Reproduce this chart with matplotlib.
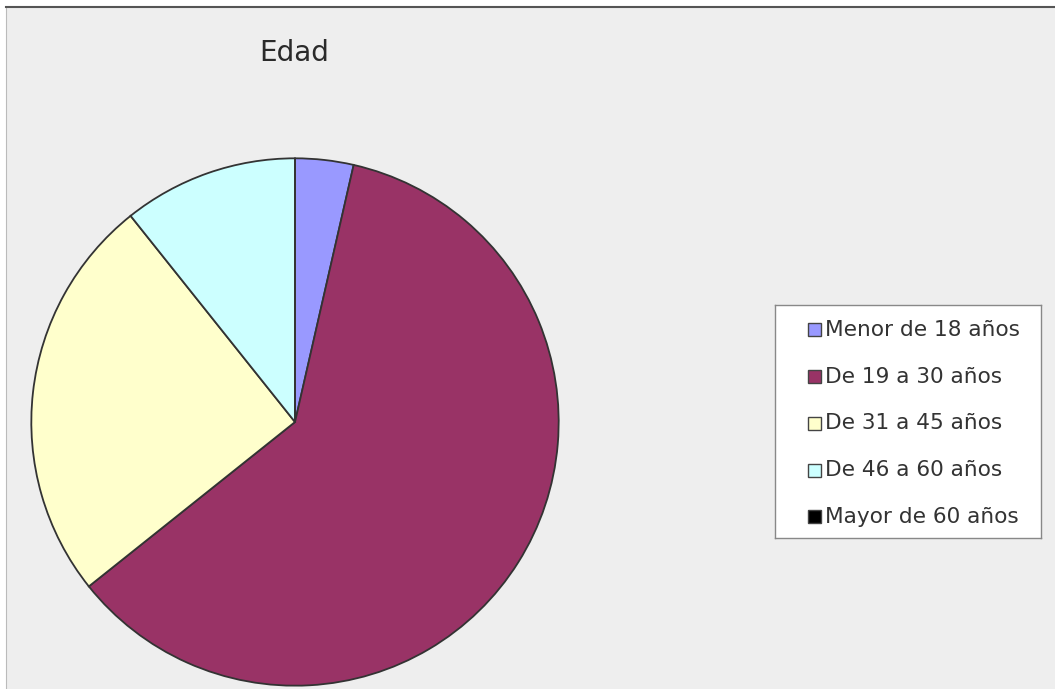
import matplotlib.pyplot as plt
from matplotlib.patches import Rectangle

plt.rcParams['font.family'] = ['DejaVu Sans']

labels = ["Menor de 18 años", "De 19 a 30 años", "De 31 a 45 años",
          "De 46 a 60 años", "Mayor de 60 años"]
counts = [1, 17, 7, 3, 0]
colors = ["#9999FF", "#993366", "#FFFFCC", "#CCFFFF", "#000000"]

W, H = 1055, 689
fig = plt.figure(figsize=(W / 100, H / 100), dpi=100)
fig.patch.set_facecolor("white")

# grey chart area with dark top border
bg = fig.add_axes([6 / W, 0, 1 - 6 / W, (H - 7) / H])
bg.set_facecolor("#EEEEEE")
bg.set_xticks([])
bg.set_yticks([])
for side in ["right", "bottom"]:
    bg.spines[side].set_visible(False)
bg.spines["top"].set_color("#555555")
bg.spines["top"].set_linewidth(1.5)
bg.spines["left"].set_color("#BBBBBB")
bg.spines["left"].set_linewidth(0.8)

fig.text(294 / W, 1 - 53 / H, "Edad", ha="center", va="center",
         fontsize=20, color="#2a2a2a")

ax = fig.add_axes([30 / W, 2 / H, 530 / W, 530 / H])
ax.set_facecolor("none")
wedges, _ = ax.pie(counts, colors=colors, startangle=90, counterclock=False,
                   wedgeprops=dict(edgecolor="#333333", linewidth=1.3))
ax.set_xlim(-1.005, 1.005)
ax.set_ylim(-1.005, 1.005)

# legend box, drawn in its own pixel-like coordinates
lw, lh = 266, 233
lg = fig.add_axes([775 / W, (H - 538) / H, lw / W, lh / H])
lg.set_facecolor("white")
lg.set_xlim(0, lw)
lg.set_ylim(lh, 0)
lg.set_xticks([])
lg.set_yticks([])
for s in lg.spines.values():
    s.set_color("#888888")
    s.set_linewidth(1.0)
for i, (lab, col) in enumerate(zip(labels, colors)):
    yc = 25 + i * 46.7
    lg.add_patch(Rectangle((33, yc - 6.5), 13, 13, facecolor=col,
                           edgecolor="#444444", linewidth=1.0))
    lg.text(50, yc, lab, ha="left", va="center", fontsize=15.6, color="#333333")

fig.savefig("out.png", dpi=100)
